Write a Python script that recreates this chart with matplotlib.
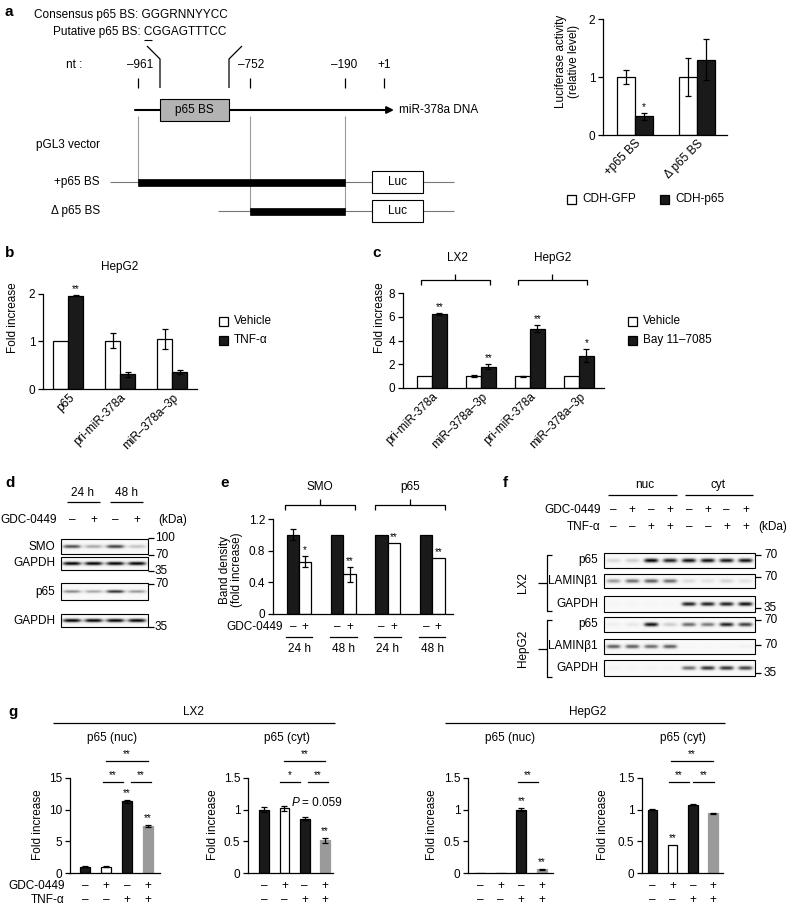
import numpy as np
import matplotlib.pyplot as plt
from matplotlib.patches import Rectangle

plt.rcParams['font.family'] = ['Liberation Sans', 'DejaVu Sans']
plt.rcParams['font.size'] = 8.5
plt.rcParams['axes.linewidth'] = 0.9

# ---- data ----
# a: luciferase reporter
luc_groups = ['+p65 BS', 'Δ p65 BS']
luc_gfp = [1.0, 1.0]
luc_gfp_err = [0.12, 0.32]
luc_p65 = [0.32, 1.30]
luc_p65_err = [0.06, 0.35]
luc_stars = ['*', '']

# b: HepG2 + TNF-a
b_genes = ['p65', 'pri-miR-378a', 'miR–378a–3p']
b_vehicle = [1.0, 1.02, 1.05]
b_vehicle_err = [0.0, 0.15, 0.21]
b_tnf = [1.96, 0.31, 0.36]
b_tnf_err = [0.01, 0.05, 0.05]
b_stars = ['**', '', '']

# c: Bay 11-7085
c_genes = ['pri-miR-378a', 'miR–378a–3p', 'pri-miR-378a', 'miR–378a–3p']
c_vehicle = [1.0, 1.0, 1.0, 1.0]
c_vehicle_err = [0.0, 0.1, 0.04, 0.0]
c_bay = [6.2, 1.8, 5.0, 2.7]
c_bay_err = [0.08, 0.22, 0.3, 0.55]
c_stars = ['**', '**', '**', '*']

# d: western blot band levels (lanes: 24h -, 24h +, 48h -, 48h +)
d_smo = [0.70, 0.40, 0.75, 0.30]
d_gapdh1 = [0.95, 0.95, 0.95, 0.95]
d_p65 = [0.50, 0.40, 0.80, 0.45]
d_gapdh2 = [0.95, 0.95, 0.95, 0.95]

# e: band density
e_times = ['24 h', '48 h', '24 h', '48 h']
e_ctrl = [1.0, 1.0, 1.0, 1.0]
e_ctrl_err = [0.07, 0.0, 0.0, 0.0]
e_gdc = [0.66, 0.50, 0.90, 0.71]
e_gdc_err = [0.07, 0.10, 0.0, 0.0]
e_stars = ['*', '**', '**', '**']

# f: fractionation blots (nuc x4, cyt x4)
f_lx2_p65 = [0.20, 0.25, 0.95, 0.85, 0.90, 0.90, 0.88, 0.90]
f_lx2_lamin = [0.45, 0.60, 0.65, 0.60, 0.18, 0.15, 0.22, 0.15]
f_lx2_gapdh = [0.03, 0.03, 0.03, 0.03, 0.85, 0.85, 0.85, 0.90]
f_hep_p65 = [0.08, 0.12, 0.90, 0.25, 0.60, 0.55, 0.85, 0.75]
f_hep_lamin = [0.65, 0.65, 0.60, 0.65, 0.02, 0.02, 0.02, 0.05]
f_hep_gapdh = [0.05, 0.04, 0.04, 0.04, 0.60, 0.80, 0.80, 0.75]

# g: p65 fold increase
g_gdc = ['–', '+', '–', '+']
g_tnf = ['–', '–', '+', '+']
g_lx2_nuc = [1.0, 1.0, 11.3, 7.4]
g_lx2_nuc_err = [0.05, 0.05, 0.25, 0.15]
g_lx2_nuc_stars = ['', '', '**', '**']
g_lx2_cyt = [1.0, 1.02, 0.86, 0.52]
g_lx2_cyt_err = [0.04, 0.04, 0.02, 0.04]
g_lx2_cyt_stars = ['', '', '', '**']
g_hep_nuc = [0.0, 0.0, 1.0, 0.06]
g_hep_nuc_err = [0.0, 0.0, 0.02, 0.005]
g_hep_nuc_stars = ['', '', '**', '**']
g_hep_cyt = [1.0, 0.45, 1.08, 0.94]
g_hep_cyt_err = [0.005, 0.0, 0.008, 0.008]
g_hep_cyt_stars = ['', '**', '', '']
# brackets: (from, to, level, label)
g_lx2_nuc_br = [(0.85, 1.8, 0, '**'), (2.2, 3.15, 0, '**'), (1.0, 3.0, 1, '**')]
g_lx2_cyt_br = [(0.8, 1.75, 0, '*'), (2.15, 3.15, 0, '**'), (1.0, 3.0, 1, '**')]
g_hep_nuc_br = [(1.85, 2.8, 0, '**')]
g_hep_cyt_br = [(0.8, 1.8, 0, '**'), (2.0, 3.05, 0, '**'), (0.9, 3.0, 1, '**')]

BLACK = '#1a1a1a'
GREY = '#9a9a9a'

W, H = 788, 911
fig = plt.figure(figsize=(W / 100, H / 100), dpi=100)
ov = fig.add_axes([0, 0, 1, 1])
ov.axis('off')


def px_axes(left, top, right, bottom):
    return fig.add_axes([left / W, 1 - bottom / H, (right - left) / W, (bottom - top) / H])


def T(x, y, s, ha='left', va='center', **kw):
    ov.text(x, y, s, ha=ha, va=va, **kw)


def L(xs, ys, color='k', lw=0.9):
    ov.plot(xs, ys, color=color, lw=lw, solid_capstyle='butt')


def style_axes(ax, xlim, ylim, yticks, yticklabels=None):
    ax.set_xlim(xlim)
    ax.set_ylim(ylim)
    ax.set_yticks(yticks)
    if yticklabels is not None:
        ax.set_yticklabels(yticklabels)
    ax.spines['top'].set_visible(False)
    ax.spines['right'].set_visible(False)
    ax.patch.set_visible(False)
    ax.tick_params(axis='y', length=3.5, width=0.9, pad=2, labelsize=8.5)
    ax.tick_params(axis='x', length=0, pad=2, labelsize=8.5)
    ax.set_xticks([])


def errs(ax, xs, vals, err):
    err = np.asarray(err, float)
    m = err > 0
    if m.any():
        ax.errorbar(np.asarray(xs)[m], np.asarray(vals)[m], yerr=err[m], fmt='none',
                    ecolor='k', elinewidth=0.9, capsize=2.5, capthick=0.9, zorder=3)


def pair_bars(ax, left, left_err, right, right_err, left_color, right_color, width):
    x = np.arange(len(left))
    ax.bar(x - width / 2, left, width, color=left_color, edgecolor='k', linewidth=0.9, zorder=2)
    ax.bar(x + width / 2, right, width, color=right_color, edgecolor='k', linewidth=0.9, zorder=2)
    errs(ax, x - width / 2, left, left_err)
    errs(ax, x + width / 2, right, right_err)
    return x


def stars_above(ax, xs, vals, err, labels, pad):
    for xi, v, e, s in zip(xs, vals, err, labels):
        if s:
            ax.text(xi, v + e + pad, s, ha='center', va='bottom', fontsize=7)


def rot_labels(ax, x, labels):
    ax.set_xticks(x)
    ax.set_xticklabels(labels)
    plt.setp(ax.get_xticklabels(), rotation=45, ha='right', va='top', rotation_mode='anchor')


def legend_box(x, y, s, color):
    ov.add_patch(Rectangle((x, y - 4.5), 9, 9, facecolor=color, edgecolor='k', lw=0.9))
    T(x + 15, y, s)


def brace(xl, xr, y):
    xm = (xl + xr) / 2
    L([xl, xl, xr, xr], [y + 5, y, y, y + 5])
    L([xm, xm], [y, y - 6])


def blot(x0, y0, x1, y1, levels, band_w, band_h):
    n = len(levels)
    lanes = x0 + (np.arange(n) + 0.5) * (x1 - x0) / n
    xs = np.linspace(x0, x1, int((x1 - x0) * 4))
    ys = np.linspace(y0, y1, int((y1 - y0) * 4))
    X, Y = np.meshgrid(xs, ys)
    cy = (y0 + y1) / 2
    img = np.full(X.shape, 0.05)
    for cx, a in zip(lanes, levels):
        img += a * np.exp(-np.abs((X - cx) / (band_w / 2)) ** 4) * np.exp(-((Y - cy) / (band_h / 2)) ** 2)
    ov.imshow(np.clip(img, 0, 1), extent=(x0, x1, y1, y0), cmap='Greys', vmin=0, vmax=1,
              aspect='auto', interpolation='bilinear', zorder=1)
    ov.add_patch(Rectangle((x0, y0), x1 - x0, y1 - y0, fill=False, ec='k', lw=0.8, zorder=2))
    return lanes


# ================= a: diagram =================
T(5, 12, 'a', fontweight='bold', fontsize=11)
T(34, 15, 'Consensus p65 BS: GGGRNNYYCC')
T(53, 32, 'Putative p65 BS: CGGAGTTTCC')
L([144, 152], [39.5, 39.5], lw=0.8)
T(66, 65, 'nt :')
for xp, s in [(140, '–961'), (251, '–752'), (344, '–190'), (384, '+1')]:
    T(xp, 65, s, ha='center')
for xp in [138, 250, 345, 384]:
    L([xp, xp], [78, 88])
L([147, 160, 160], [46, 59, 88])
L([242, 229, 229], [46, 59, 88])
ov.annotate('', xy=(394, 110), xytext=(135, 110),
            arrowprops=dict(arrowstyle='-|>', lw=1.5, color='k', mutation_scale=10, shrinkA=0, shrinkB=0))
T(399, 110, 'miR-378a DNA')
ov.add_patch(Rectangle((160, 99), 69, 22, facecolor='#b3b3b3', edgecolor='k', lw=0.8, zorder=3))
T(194.5, 110, 'p65 BS', ha='center', zorder=4)
L([138, 138], [116, 182], color='#9a9a9a', lw=0.8)
L([250, 250], [116, 211], color='#9a9a9a', lw=0.8)
L([345, 345], [116, 211], color='#9a9a9a', lw=0.8)
T(36, 145, 'pGL3 vector')
for yy, xs, x_start, lab in [(182, 138, 110, '+p65 BS'), (211, 250, 218, 'Δ p65 BS')]:
    T(100, yy, lab, ha='right')
    L([x_start, 454], [yy, yy], color='#777777', lw=0.8)
    ov.add_patch(Rectangle((xs, yy - 3.5), 345 - xs, 7, facecolor='k', edgecolor='k', lw=0.5, zorder=3))
    ov.add_patch(Rectangle((372, yy - 11), 51, 22, facecolor='white', edgecolor='k', lw=0.8, zorder=3))
    T(397.5, yy, 'Luc', ha='center', zorder=4)

# ================= a: luciferase bars =================
ax = px_axes(603, 19, 727, 135)
style_axes(ax, (-0.516, 1.484), (0, 2), [0, 1, 2])
x = pair_bars(ax, luc_gfp, luc_gfp_err, luc_p65, luc_p65_err, 'white', BLACK, 0.29)
stars_above(ax, x + 0.145, luc_p65, luc_p65_err, luc_stars, 0.02)
rot_labels(ax, x, luc_groups)
T(561, 61, 'Luciferase activity', ha='center', rotation=90)
T(574, 61, '(relative level)', ha='center', rotation=90)
legend_box(567, 199, 'CDH-GFP', 'white')
legend_box(660, 199, 'CDH-p65', BLACK)

# ================= b =================
T(5, 253, 'b', fontweight='bold', fontsize=11)
T(120, 267, 'HepG2', ha='center')
ax = px_axes(43, 294, 197, 389)
style_axes(ax, (-0.49, 2.48), (0, 2), [0, 1, 2])
x = pair_bars(ax, b_vehicle, b_vehicle_err, b_tnf, b_tnf_err, 'white', BLACK, 0.29)
stars_above(ax, x + 0.145, b_tnf, b_tnf_err, b_stars, 0.02)
rot_labels(ax, x, b_genes)
T(13, 318, 'Fold increase', ha='center', rotation=90)
legend_box(219, 321, 'Vehicle', 'white')
legend_box(219, 340, 'TNF-α', BLACK)

# ================= c =================
T(372, 253, 'c', fontweight='bold', fontsize=11)
T(457, 258, 'LX2', ha='center')
T(553, 258, 'HepG2', ha='center')
brace(421, 490, 280)
brace(518, 587, 280)
ax = px_axes(403, 293, 604, 388)
style_axes(ax, (-0.59, 3.51), (0, 8), [0, 2, 4, 6, 8])
x = pair_bars(ax, c_vehicle, c_vehicle_err, c_bay, c_bay_err, 'white', BLACK, 0.30)
stars_above(ax, x + 0.15, c_bay, c_bay_err, c_stars, 0.1)
rot_labels(ax, x, c_genes)
T(380, 318, 'Fold increase', ha='center', rotation=90)
legend_box(628, 321, 'Vehicle', 'white')
legend_box(628, 340, 'Bay 11–7085', BLACK)

# ================= d =================
T(5, 483, 'd', fontweight='bold', fontsize=11)
d_x0, d_x1 = 61, 148
d_lanes = d_x0 + (np.arange(4) + 0.5) * (d_x1 - d_x0) / 4
T(83, 493, '24 h', ha='center')
T(127, 493, '48 h', ha='center')
L([67, 100], [502, 502])
L([110, 143], [502, 502])
T(57, 520, 'GDC-0449', ha='right')
for lx, s in zip(d_lanes, ['–', '+', '–', '+']):
    T(lx, 520, s, ha='center')
T(158, 520, '(kDa)')
for (y0, y1), levels, lab, bh in [((539, 554), d_smo, 'SMO', 4),
                                    ((557, 570), d_gapdh1, 'GAPDH', 4),
                                    ((583, 600), d_p65, 'p65', 3.5),
                                    ((614, 627), d_gapdh2, 'GAPDH', 4)]:
    blot(d_x0, y0, d_x1, y1, levels, 19, bh)
    T(55, (y0 + y1) / 2, lab, ha='right')
for yy, s in [(538, '100'), (555, '70'), (571, '35'), (584, '70'), (627, '35')]:
    L([148, 154], [yy, yy])
    T(155, yy, s)

# ================= e =================
T(220, 483, 'e', fontweight='bold', fontsize=11)
T(320, 487, 'SMO', ha='center')
T(410, 487, 'p65', ha='center')
brace(285, 355, 505)
brace(375, 445, 505)
ax = px_axes(273, 519, 453, 614)
style_axes(ax, (-0.587, 3.47), (0, 1.2), [0, 0.4, 0.8, 1.2], ['0', '0.4', '0.8', '1.2'])
x = pair_bars(ax, e_ctrl, e_ctrl_err, e_gdc, e_gdc_err, BLACK, 'white', 0.28)
stars_above(ax, x + 0.14, e_gdc, e_gdc_err, e_stars, 0.01)
tr = ax.get_xaxis_transform()
for xi, t in zip(x, e_times):
    ax.text(xi - 0.14, -0.137, '–', transform=tr, ha='center', va='center')
    ax.text(xi + 0.14, -0.137, '+', transform=tr, ha='center', va='center')
    ax.plot([xi - 0.3, xi + 0.3], [-0.24, -0.24], transform=tr, color='k', lw=0.9, clip_on=False)
    ax.text(xi, -0.37, t, transform=tr, ha='center', va='center')
T(283, 627, 'GDC-0449', ha='right')
T(225, 570, 'Band density', ha='center', rotation=90)
T(237, 570, '(fold increase)', ha='center', rotation=90)

# ================= f =================
T(503, 483, 'f', fontweight='bold', fontsize=11)
f_x0, f_x1 = 604, 755
f_lanes = f_x0 + (np.arange(8) + 0.5) * (f_x1 - f_x0) / 8
T(645, 485, 'nuc', ha='center')
T(718, 485, 'cyt', ha='center')
L([608, 677], [495, 495])
L([685, 753], [495, 495])
T(601, 510, 'GDC-0449', ha='right')
T(601, 527, 'TNF-α', ha='right')
for lx, s1, s2 in zip(f_lanes, ['–', '+'] * 4, ['–', '–', '+', '+'] * 2):
    T(lx, 510, s1, ha='center')
    T(lx, 527, s2, ha='center')
T(758, 527, '(kDa)')
f_rows = [((553, 568), f_lx2_p65, 'p65', '70', 555),
          ((574, 588), f_lx2_lamin, 'LAMINβ1', '70', 577),
          ((596, 612), f_lx2_gapdh, 'GAPDH', '35', 608),
          ((617, 632), f_hep_p65, 'p65', '70', 620),
          ((639, 654), f_hep_lamin, 'LAMINβ1', '70', 645),
          ((660, 676), f_hep_gapdh, 'GAPDH', '35', 673)]
for (y0, y1), levels, lab, mw, my in f_rows:
    blot(f_x0, y0, f_x1, y1, levels, 15, 4.5)
    T(598, (y0 + y1) / 2, lab, ha='right')
    L([755, 761], [my, my])
    T(764, my, mw)
for ya, yb, lab in [(555, 611, 'LX2'), (620, 677, 'HepG2')]:
    ym = (ya + yb) / 2
    L([552, 547, 547, 552], [ya, ya, yb, yb])
    L([538, 547], [ym, ym])
    T(523, ym, lab, ha='center', rotation=90)

# ================= g =================
T(8, 712, 'g', fontweight='bold', fontsize=11)
T(193, 712, 'LX2', ha='center')
L([53, 335], [723, 723])
T(588, 712, 'HepG2', ha='center')
L([445, 725], [723, 723])
for xc in [112, 510]:
    T(xc, 738, 'p65 (nuc)', ha='center')
for xc in [287, 683]:
    T(xc, 738, 'p65 (cyt)', ha='center')
T(65, 886, 'GDC-0449', ha='right')
T(65, 900, 'TNF-α', ha='right')
T(292, 803, 'P', style='italic')
T(302, 803, '= 0.059')

g_colors = [BLACK, 'white', BLACK, GREY]
g_edges = ['k', 'k', 'k', GREY]
g_panels = [((70, 778, 160, 873), (-0.71, 3.57), 15, [0, 5, 10, 15], ['0', '5', '10', '15'],
             g_lx2_nuc, g_lx2_nuc_err, g_lx2_nuc_stars, g_lx2_nuc_br, 38),
            ((248, 778, 333, 873), (-0.79, 3.39), 1.5, [0, 0.5, 1, 1.5], ['0', '0.5', '1', '1.5'],
             g_lx2_cyt, g_lx2_cyt_err, g_lx2_cyt_stars, g_lx2_cyt_br, 213),
            ((468, 778, 553, 873), (-0.58, 3.53), 1.5, [0, 0.5, 1, 1.5], ['0', '0.5', '1', '1.5'],
             g_hep_nuc, g_hep_nuc_err, g_hep_nuc_stars, g_hep_nuc_br, 432),
            ((642, 778, 723, 873), (-0.52, 3.5), 1.5, [0, 0.5, 1, 1.5], ['0', '0.5', '1', '1.5'],
             g_hep_cyt, g_hep_cyt_err, g_hep_cyt_stars, g_hep_cyt_br, 603)]
for box, xlim, ymax, yt, ytl, vals, err, stars, brs, ylab_x in g_panels:
    ax = px_axes(*box)
    style_axes(ax, xlim, (0, ymax), yt, ytl)
    x = np.arange(len(vals))
    ax.bar(x, vals, 0.48, color=g_colors, edgecolor=g_edges, linewidth=0.9, zorder=2)
    errs(ax, x, vals, err)
    stars_above(ax, x, vals, err, stars, 0.02 * ymax)
    for a, b, lev, s in brs:
        yl = ymax * (0.958 if lev == 0 else 1.18)
        ax.plot([a, b], [yl, yl], color='k', lw=0.9, clip_on=False)
        ax.text((a + b) / 2, yl + 0.015 * ymax, s, ha='center', va='bottom', fontsize=7)
    tr = ax.get_xaxis_transform()
    for xi, s1, s2 in zip(x, g_gdc, g_tnf):
        ax.text(xi, -0.137, s1, transform=tr, ha='center', va='center')
        ax.text(xi, -0.28, s2, transform=tr, ha='center', va='center')
    T(ylab_x, 825, 'Fold increase', ha='center', rotation=90)

ov.set_xlim(0, W)
ov.set_ylim(H, 0)
fig.savefig('out.png', dpi=100)
